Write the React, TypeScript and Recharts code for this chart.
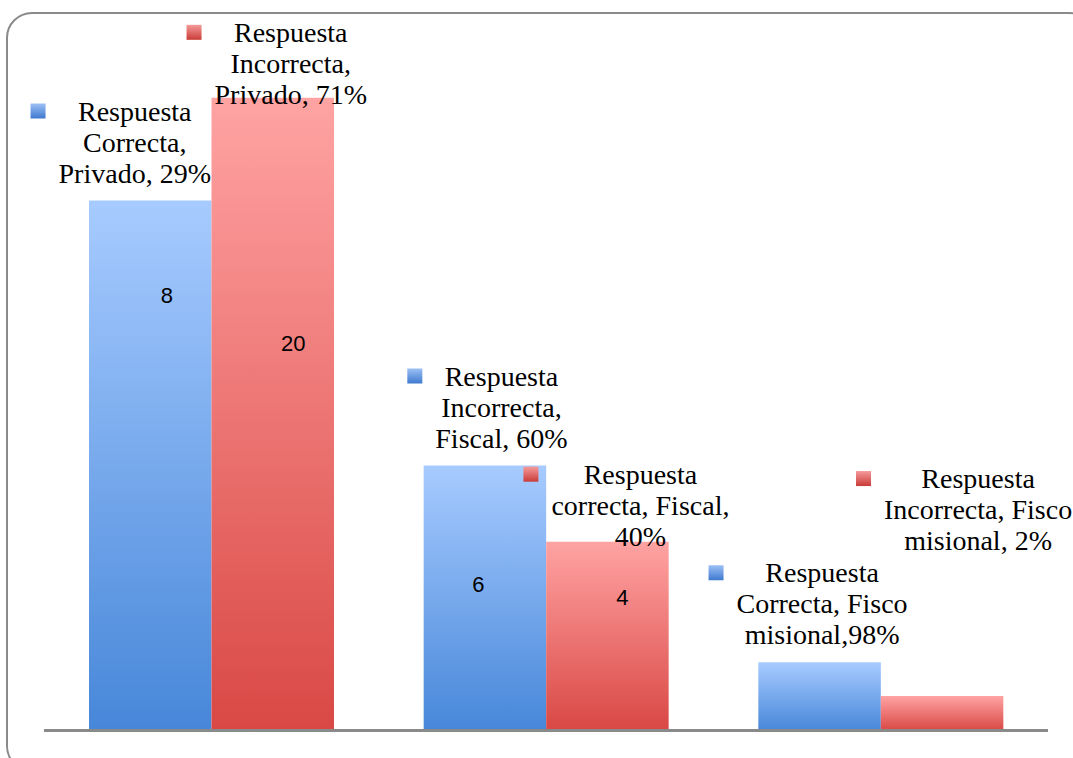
import React from "react";
import { BarChart, Bar, XAxis, YAxis, LabelList, ReferenceLine } from "recharts";

// Categories and the two series (bar heights on a hidden 0-10 axis)
const categorias = ["Privado", "Fiscal", "Fisco misional"];
const serieAzul = [8, 4, 1.03];
const serieRoja = [9.55, 2.85, 0.52];

// Numbers shown inside the bars
const numerosAzul = ["8", "6", ""];
const numerosRoja = ["20", "4", ""];

// Data labels with legend key
const notasAzul = [
  ["Respuesta", "Correcta,", "Privado, 29%"],
  ["Respuesta", "Incorrecta,", "Fiscal, 60%"],
  ["Respuesta", "Correcta, Fisco", "misional,98%"],
];
const notasRoja = [
  ["Respuesta", "Incorrecta,", "Privado, 71%"],
  ["Respuesta", "correcta, Fiscal,", "40%"],
  ["Respuesta", "Incorrecta, Fisco", "misional, 2%"],
];

const data = categorias.map((c, i) => ({
  categoria: c,
  azul: serieAzul[i],
  roja: serieRoja[i],
}));

// label placement relative to the bar (center x, top y)
const notaPos: Record<string, { dx: number; dy: number }[]> = {
  azul: [
    { dx: -15.5, dy: -80 },
    { dx: 16.5, dy: -80 },
    { dx: 2.5, dy: -80 },
  ],
  roja: [
    { dx: 18, dy: -56 },
    { dx: 33, dy: -58 },
    { dx: 36, dy: -208 },
  ],
};
const numPos: Record<string, { dx: number; dy: number }[]> = {
  azul: [
    { dx: 16.5, dy: 102.5 },
    { dx: -6.5, dy: 126 },
    { dx: 0, dy: 0 },
  ],
  roja: [
    { dx: 20.5, dy: 253 },
    { dx: 15, dy: 63 },
    { dx: 0, dy: 0 },
  ],
};

const SERIF = '"Liberation Serif", "Times New Roman", serif';
const FONT_SIZE = 28;
const LINE_H = 31;

let ctx: CanvasRenderingContext2D | null = null;
function medir(t: string) {
  if (!ctx) {
    ctx = document.createElement("canvas").getContext("2d");
  }
  if (!ctx) return t.length * 13;
  ctx.font = `${FONT_SIZE}px ${SERIF}`;
  return ctx.measureText(t).width;
}

function makeNota(serie: "azul" | "roja") {
  const textos = serie === "azul" ? notasAzul : notasRoja;
  return (props: any) => {
    const { x, y, width, index } = props;
    const lines = textos[index];
    const pos = notaPos[serie][index];
    const cx = Number(x) + Number(width) / 2 + pos.dx;
    const base = Number(y) + pos.dy;
    const maxW = Math.max(...lines.map(medir));
    const sqX = cx - maxW / 2 - 13 - 15;
    return (
      <g>
        <rect
          x={sqX}
          y={base - 17}
          width={15}
          height={15}
          fill={serie === "azul" ? "url(#keyAzul)" : "url(#keyRoja)"}
        />
        {lines.map((l, i) => (
          <text
            key={i}
            x={cx}
            y={base + i * LINE_H}
            textAnchor="middle"
            fontFamily={SERIF}
            fontSize={FONT_SIZE}
            fill="#000"
          >
            {l}
          </text>
        ))}
      </g>
    );
  };
}

function makeNumero(serie: "azul" | "roja") {
  const nums = serie === "azul" ? numerosAzul : numerosRoja;
  return (props: any) => {
    const { x, y, width, index } = props;
    const txt = nums[index];
    if (!txt) return null;
    const pos = numPos[serie][index];
    return (
      <text
        x={Number(x) + Number(width) / 2 + pos.dx}
        y={Number(y) + pos.dy}
        textAnchor="middle"
        fontFamily='"Liberation Sans", Arial, sans-serif'
        fontSize={22}
        fill="#000"
      >
        {txt}
      </text>
    );
  };
}

export default function App() {
  return (
    <div
      style={{
        position: "absolute",
        left: 0,
        top: 0,
        width: 1073,
        height: 758,
        overflow: "hidden",
        background: "#fff",
      }}
    >
      <div
        style={{
          position: "absolute",
          left: 6,
          top: 12,
          width: 1090,
          height: 760,
          border: "2px solid #8a8a8a",
          borderRadius: 26,
          boxSizing: "border-box",
        }}
      />
      <div style={{ position: "absolute", left: 0, top: 0 }}>
        <BarChart
          width={1073}
          height={758}
          data={data}
          margin={{ top: 68, right: 25, left: 44, bottom: 27.5 }}
          barSize={122.5}
          barGap={0}
        >
          <defs>
            <linearGradient id="gradAzul" x1="0" y1="0" x2="0" y2="1">
              <stop offset="0%" stopColor="#a7cbff" />
              <stop offset="100%" stopColor="#4787d9" />
            </linearGradient>
            <linearGradient id="gradRoja" x1="0" y1="0" x2="0" y2="1">
              <stop offset="0%" stopColor="#ffa3a3" />
              <stop offset="100%" stopColor="#d94844" />
            </linearGradient>
            <linearGradient id="keyAzul" x1="0" y1="0" x2="0" y2="1">
              <stop offset="0%" stopColor="#9cc0f5" />
              <stop offset="100%" stopColor="#3f79cf" />
            </linearGradient>
            <linearGradient id="keyRoja" x1="0" y1="0" x2="0" y2="1">
              <stop offset="0%" stopColor="#f59a9a" />
              <stop offset="100%" stopColor="#c93c38" />
            </linearGradient>
          </defs>
          <XAxis dataKey="categoria" hide />
          <YAxis hide domain={[0, 10]} />
          <Bar dataKey="azul" fill="url(#gradAzul)" isAnimationActive={false}>
            <LabelList dataKey="azul" content={makeNumero("azul")} />
            <LabelList dataKey="azul" content={makeNota("azul")} />
          </Bar>
          <Bar dataKey="roja" fill="url(#gradRoja)" isAnimationActive={false}>
            <LabelList dataKey="roja" content={makeNumero("roja")} />
            <LabelList dataKey="roja" content={makeNota("roja")} />
          </Bar>
          <ReferenceLine y={0} stroke="#8a8a8a" strokeWidth={3} />
        </BarChart>
      </div>
    </div>
  );
}
